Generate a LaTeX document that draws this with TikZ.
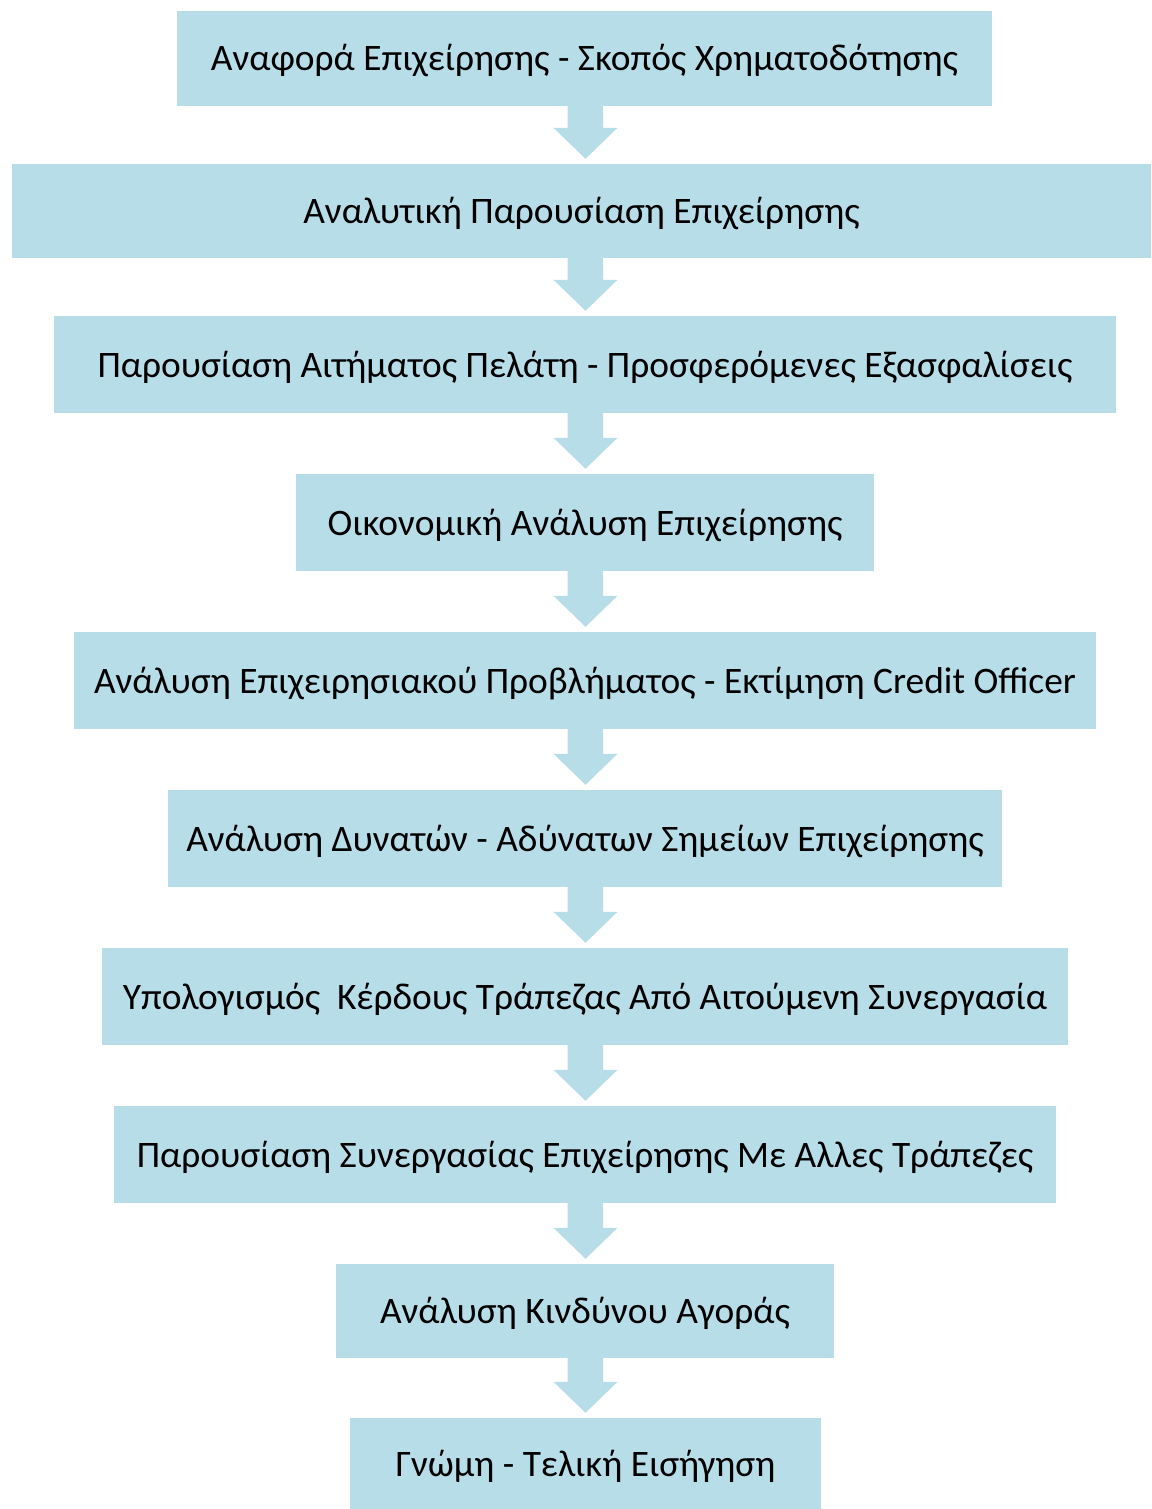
\documentclass[tikz,border=0pt]{standalone}
\usepackage{fontspec}
\setmainfont{Carlito}
\usetikzlibrary{calc}
\definecolor{boxblue}{RGB}{183,221,232}
\tikzset{
  stepbox/.style={fill=boxblue, draw=none, inner sep=0pt, minimum height=97pt,
    text height=31pt, text depth=6pt,
    font=\fontsize{37.4}{44}\selectfont, text=black, anchor=center},
}
\newcommand{\flowarrow}[2]{%
  \fill[boxblue] let \p1=(#1.south), \p2=(#2.north) in
    (567.5pt,\y1) -- (603pt,\y1) -- (603pt,\y2+36pt) -- (617.5pt,\y2+36pt)
    -- (585.5pt,\y2+5pt) -- (553.5pt,\y2+36pt) -- (567.5pt,\y2+36pt) -- cycle;}
\begin{document}
\begin{tikzpicture}[x=1pt,y=-1pt]
\useasboundingbox (0,0) rectangle (1151,1509);
\node[stepbox, minimum width=815pt, minimum height=95pt] (b1) at (584.5,58.5) {Αναφορά Επιχείρησης - Σκοπός Χρηματοδότησης};
\node[stepbox, minimum width=1139pt, minimum height=94pt] (b2) at (581.5,211) {Αναλυτική Παρουσίαση Επιχείρησης};
\node[stepbox, minimum width=1062pt] (b3) at (585,364.5) {Παρουσίαση Αιτήματος Πελάτη - Προσφερόμενες Εξασφαλίσεις};
\node[stepbox, minimum width=578pt] (b4) at (585,522.5) {Οικονομική Ανάλυση Επιχείρησης};
\node[stepbox, minimum width=1022pt] (b5) at (585,680.5) {Ανάλυση Επιχειρησιακού Προβλήματος - Εκτίμηση Credit Officer};
\node[stepbox, minimum width=834pt] (b6) at (585,838.5) {Ανάλυση Δυνατών - Αδύνατων Σημείων Επιχείρησης};
\node[stepbox, minimum width=966pt] (b7) at (585,996.5) {Υπολογισμός~ Κέρδους Τράπεζας Από Αιτούμενη Συνεργασία};
\node[stepbox, minimum width=942pt] (b8) at (585,1154.5) {Παρουσίαση Συνεργασίας Επιχείρησης Με Αλλες Τράπεζες};
\node[stepbox, minimum width=498pt, minimum height=94pt] (b9) at (585,1311) {Ανάλυση Κινδύνου Αγοράς};
\node[stepbox, minimum width=471pt, minimum height=91pt] (b10) at (585.5,1463.5) {Γνώμη - Τελική Εισήγηση};
\flowarrow{b1}{b2}
\flowarrow{b2}{b3}
\flowarrow{b3}{b4}
\flowarrow{b4}{b5}
\flowarrow{b5}{b6}
\flowarrow{b6}{b7}
\flowarrow{b7}{b8}
\flowarrow{b8}{b9}
\flowarrow{b9}{b10}
\end{tikzpicture}
\end{document}
